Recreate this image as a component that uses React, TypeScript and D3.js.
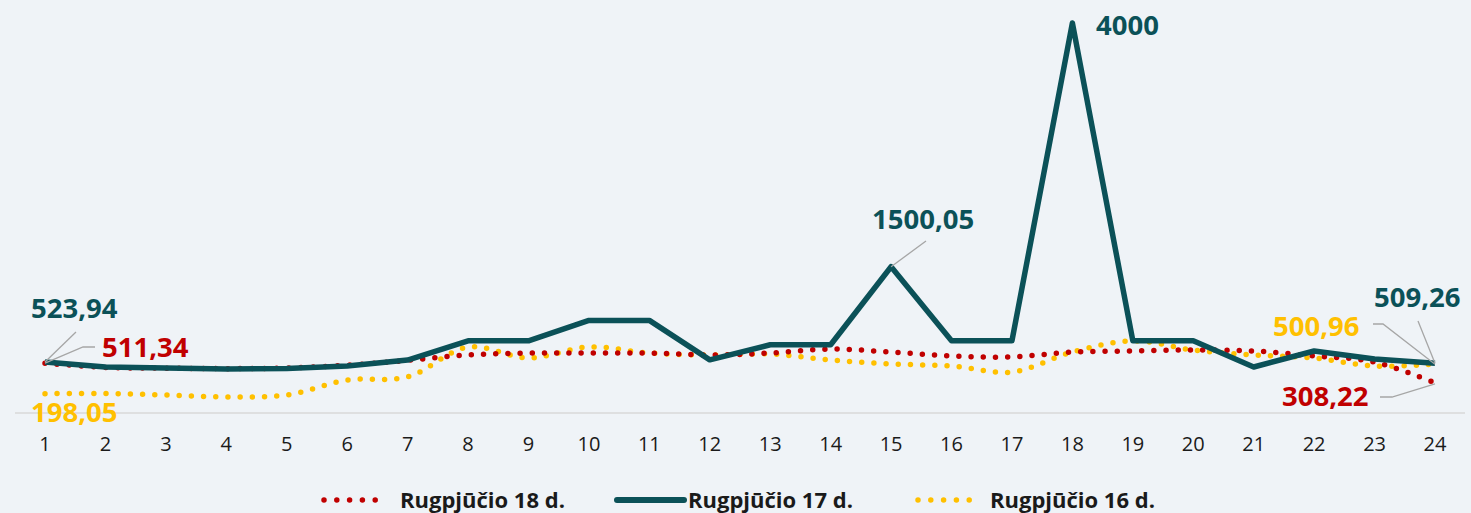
import React from "react";
import * as d3 from "d3";

const hours = d3.range(1, 25);
const tickLabels = hours.map(String);
const aug18 = [511.34, 467, 460, 455, 462, 490, 540, 595, 615, 615, 615, 595, 615, 656, 625, 585, 575, 625, 636, 646, 636, 585, 523, 308.22];
const aug17 = [523.94, 472, 462, 451, 456, 482, 543, 740, 740, 950, 950, 545, 700, 700, 1500.05, 740, 740, 4000, 740, 740, 472, 636, 554, 509.26];
const aug16 = [198.05, 200, 185, 165, 185, 338, 370, 677, 564, 677, 615, 595, 605, 543, 503, 482, 420, 625, 740, 646, 595, 564, 482, 500.96];
const legendNames = ["Rugpjūčio 18 d.", "Rugpjūčio 17 d.", "Rugpjūčio 16 d."];

const RED = "#C00000";
const TEAL = "#0B5158";
const YELLOW = "#FFC000";
const GRAY = "#A6A6A6";
const FONT = "'Open Sans', sans-serif";

export default function App() {
  const W = 1471, H = 513;
  const x = d3.scalePoint<number>().domain(hours).range([45, 1435]);
  const y = d3.scaleLinear().domain([0, 4000]).range([413, 23]);
  const smooth = d3.line<number>().x((_, i) => x(hours[i])!).y((d) => y(d)).curve(d3.curveCatmullRom.alpha(0.5));
  const straight = d3.line<number>().x((_, i) => x(hours[i])!).y((d) => y(d));

  const px = (i: number) => x(hours[i])!;
  const last = hours.length - 1;

  const labelStyle = { fontFamily: FONT, fontWeight: 700, fontSize: 27.5 } as const;
  const legendStyle = { fontFamily: FONT, fontWeight: 700, fontSize: 22 } as const;

  return (
    <svg width={W} height={H} style={{ position: "fixed", left: 0, top: 0 }}>
      <rect width={W} height={H} fill="#EFF3F7" />
      <line x1={15} x2={1465} y1={y(0)} y2={y(0)} stroke="#D9D9D9" strokeWidth={1.5} />
      {hours.map((h, i) => (
        <text key={h} x={x(h)} y={451} textAnchor="middle" fontFamily={FONT} fontSize={20} fill="#1a1a1a">
          {tickLabels[i]}
        </text>
      ))}
      <path d={smooth(aug16)!} fill="none" stroke={YELLOW} strokeWidth={5.5} strokeLinecap="round" strokeDasharray="0 12.2" />
      <path d={smooth(aug18)!} fill="none" stroke={RED} strokeWidth={5.5} strokeLinecap="round" strokeDasharray="0 12.2" />
      <path d={straight(aug17)!} fill="none" stroke={TEAL} strokeWidth={5.5} strokeLinejoin="round" />

      {/* leader lines */}
      <polyline points={`${px(0)},${y(aug17[0])} 76,332`} fill="none" stroke={GRAY} strokeWidth={1.3} />
      <polyline points={`${px(0)},${y(aug18[0])} 83,347 95,347`} fill="none" stroke={GRAY} strokeWidth={1.3} />
      <polyline points={`${px(14)},${y(aug17[14])} 926,241`} fill="none" stroke={GRAY} strokeWidth={1.3} />
      <polyline points={`1373,324 1383,324 ${px(last)},${y(aug16[last])}`} fill="none" stroke={GRAY} strokeWidth={1.3} />
      <polyline points={`1418,321 ${px(last)},${y(aug17[last])}`} fill="none" stroke={GRAY} strokeWidth={1.3} />
      <polyline points={`1380,397 1392,397 ${px(last)},${y(aug18[last]) + 1}`} fill="none" stroke={GRAY} strokeWidth={1.3} />

      {/* data labels */}
      <text x={31} y={318} fill={TEAL} {...labelStyle}>523,94</text>
      <text x={102} y={357} fill={RED} {...labelStyle}>511,34</text>
      <text x={31} y={422} fill={YELLOW} {...labelStyle}>198,05</text>
      <text x={872} y={229} fill={TEAL} {...labelStyle}>1500,05</text>
      <text x={1096} y={35} fill={TEAL} {...labelStyle}>4000</text>
      <text x={1273} y={336} fill={YELLOW} {...labelStyle}>500,96</text>
      <text x={1374} y={307} fill={TEAL} {...labelStyle}>509,26</text>
      <text x={1282} y={406} fill={RED} {...labelStyle}>308,22</text>

      {/* legend */}
      <line x1={324} x2={388} y1={500} y2={500} stroke={RED} strokeWidth={5.5} strokeLinecap="round" strokeDasharray="0 12.8" />
      <text x={400} y={508} fill="#1a1a1a" {...legendStyle}>{legendNames[0]}</text>
      <line x1={617} x2={684} y1={500} y2={500} stroke={TEAL} strokeWidth={6} strokeLinecap="round" />
      <text x={688} y={508} fill="#1a1a1a" {...legendStyle}>{legendNames[1]}</text>
      <line x1={918} x2={982} y1={500} y2={500} stroke={YELLOW} strokeWidth={5.5} strokeLinecap="round" strokeDasharray="0 12.8" />
      <text x={990} y={508} fill="#1a1a1a" {...legendStyle}>{legendNames[2]}</text>
    </svg>
  );
}
